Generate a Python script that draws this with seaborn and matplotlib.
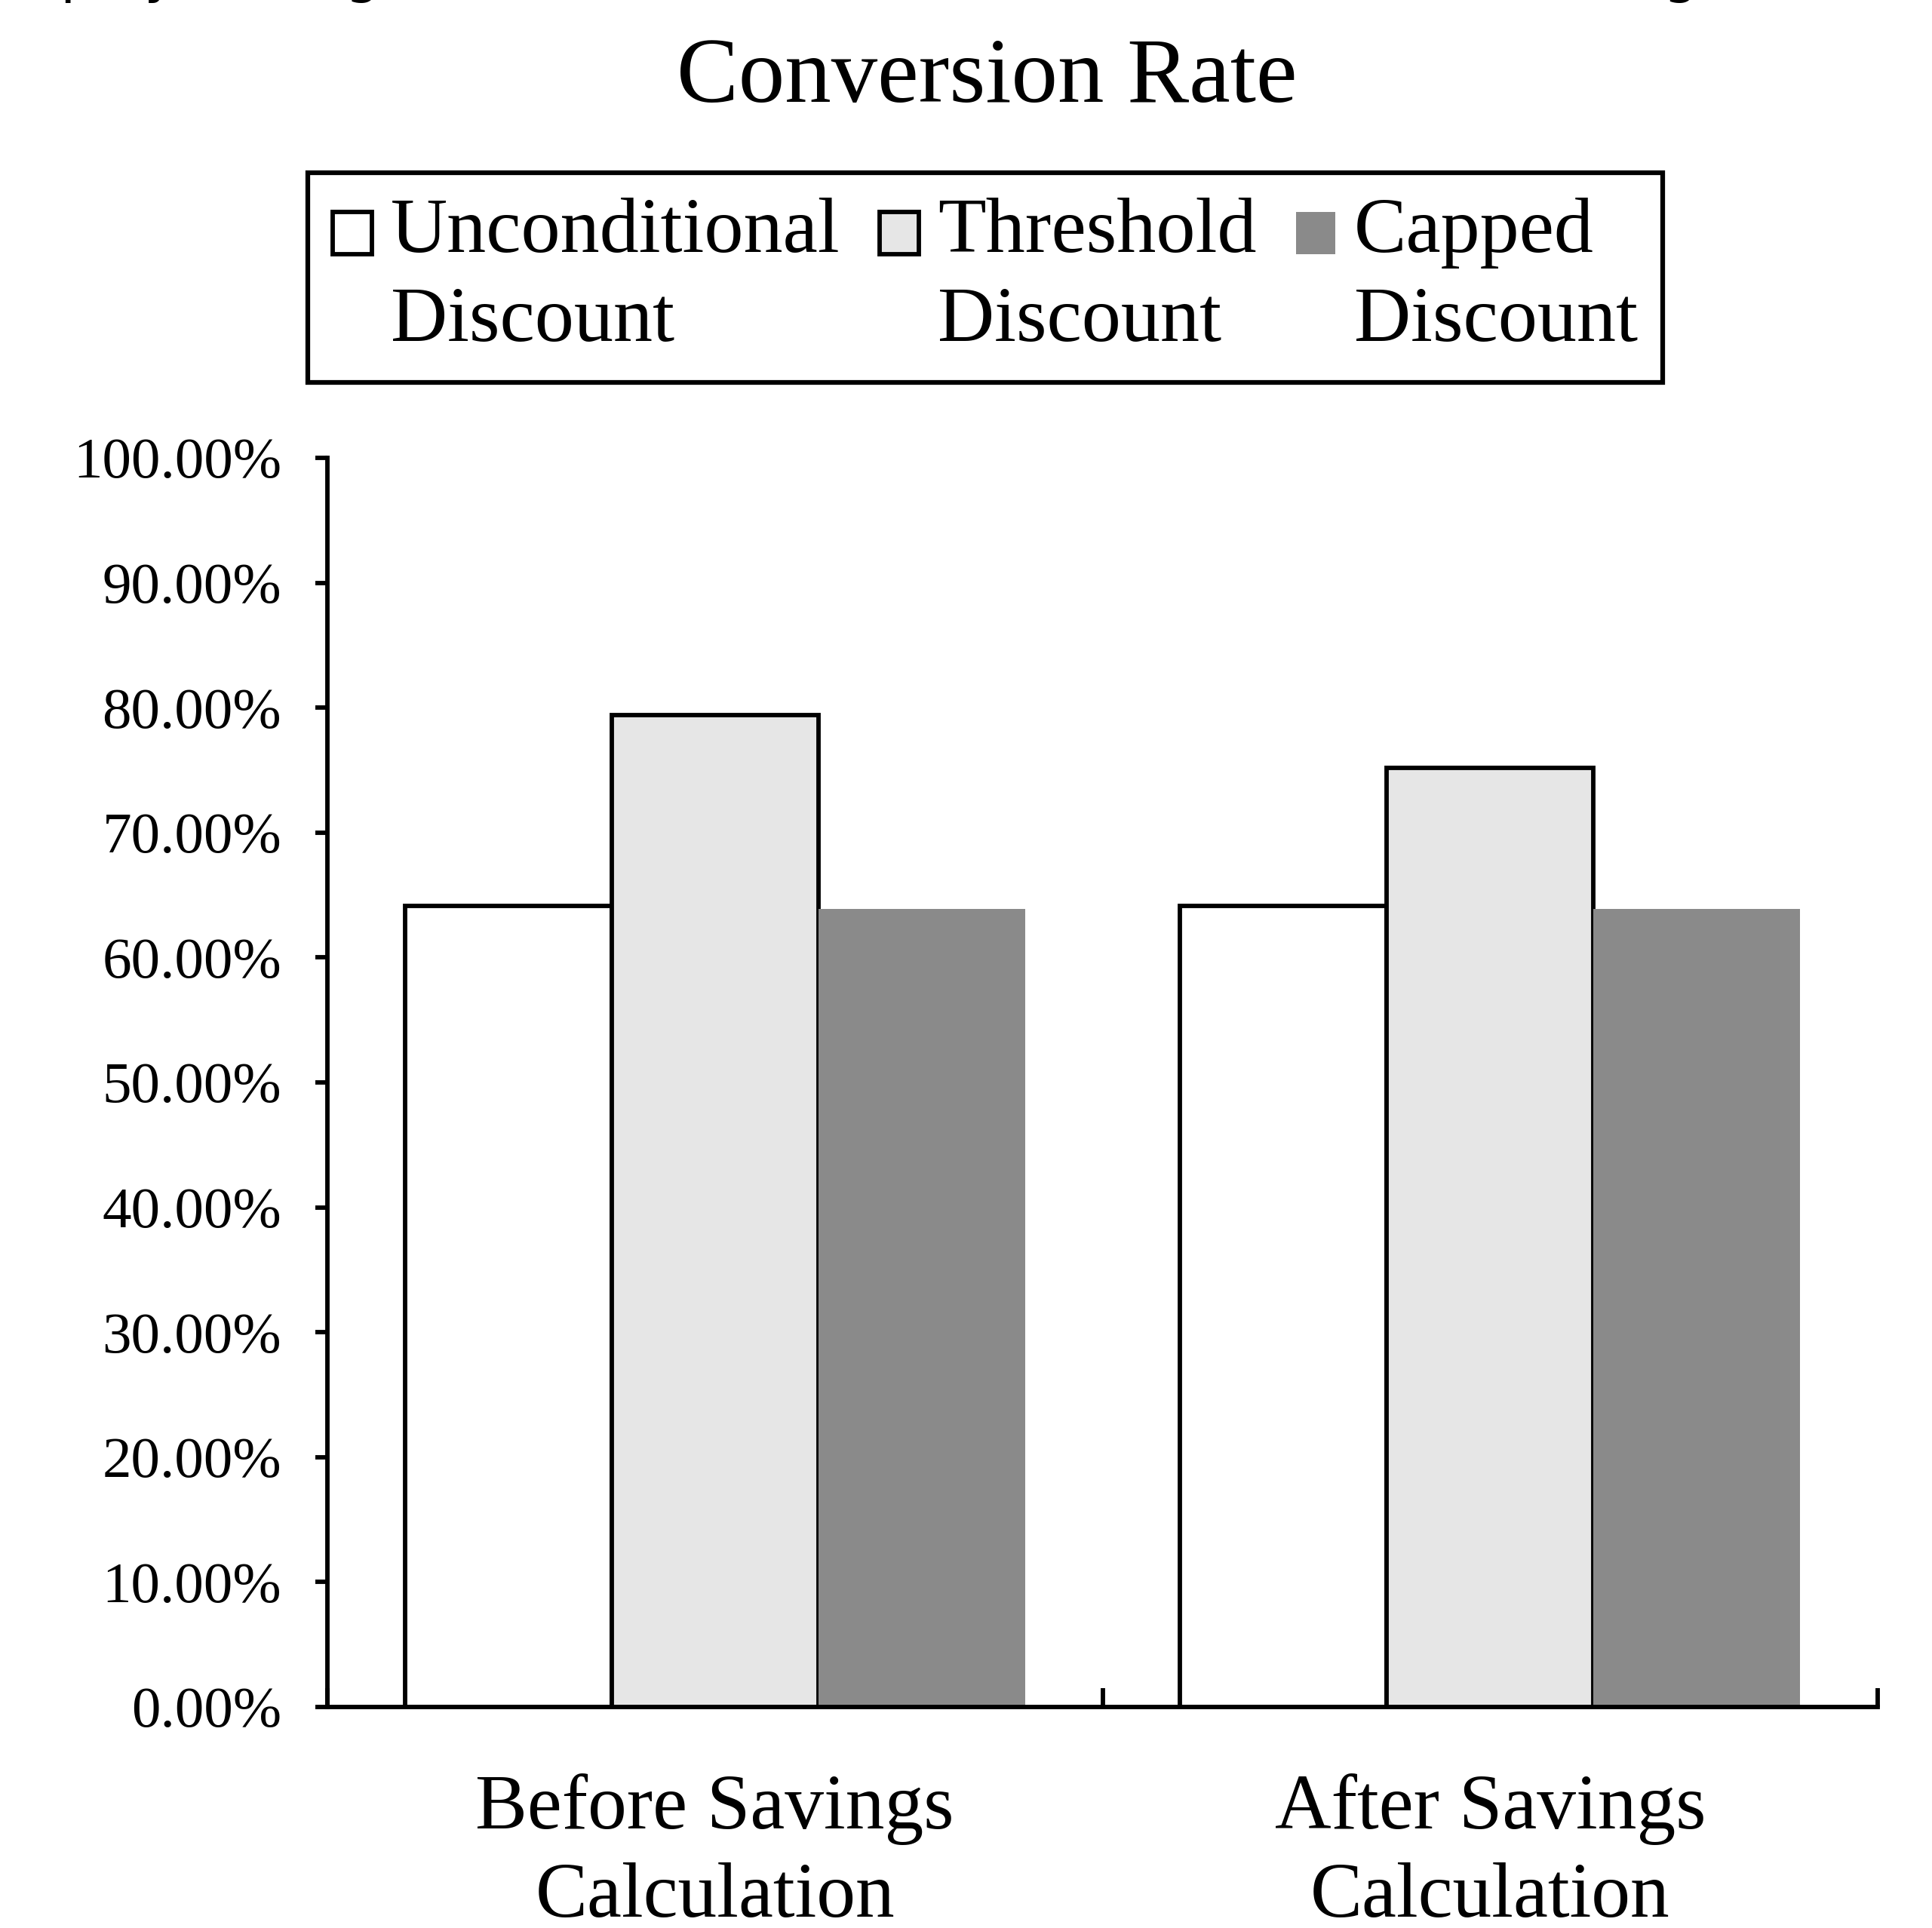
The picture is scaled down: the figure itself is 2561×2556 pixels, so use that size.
import matplotlib
matplotlib.use('Agg')
import matplotlib.pyplot as plt
import seaborn as sns
import pandas as pd
from matplotlib.patches import Rectangle
from matplotlib.legend_handler import HandlerPatch
from matplotlib.ticker import PercentFormatter, MultipleLocator, FixedLocator

# Dados (taxa de conversão média, %)
etapas = ['Before Savings\nCalculation', 'After Savings\nCalculation']
tipos = ['Unconditional\nDiscount', 'Threshold\nDiscount', 'Capped\nDiscount']
incondicional = [64.15, 64.15]
limiar = [79.4, 75.2]
limitado = [63.9, 63.9]
cores = ['#ffffff', '#e6e6e6', '#8a8a8a']

df = pd.DataFrame({
    'etapa': etapas * 3,
    'tipo': [t for t in tipos for _ in etapas],
    'taxa': incondicional + limiar + limitado,
})

sns.set_style('white')
plt.rcParams['font.family'] = ['Liberation Serif', 'DejaVu Serif']
plt.rcParams['text.color'] = 'black'
plt.rcParams['xtick.color'] = 'black'
plt.rcParams['ytick.color'] = 'black'
plt.rcParams['axes.labelcolor'] = 'black'

W, H = 2561, 2556
fig = plt.figure(figsize=(W / 300, H / 300), dpi=300)
ax = fig.add_axes([434 / W, 1 - 2263 / H, 2055 / W, 1656 / H])

sns.barplot(data=df, x='etapa', y='taxa', hue='tipo', palette=cores,
            width=0.8, errorbar=None, edgecolor='black', linewidth=1.4, ax=ax)

# A barra "Capped" não tem contorno
for barra in ax.containers[2]:
    barra.set_edgecolor('none')
    barra.set_linewidth(0)

ax.set_ylim(0, 100)
ax.set_xlim(-0.5, 1.5)
ax.yaxis.set_major_locator(MultipleLocator(10))
ax.yaxis.set_major_formatter(PercentFormatter(100, decimals=2))
ax.xaxis.set_minor_locator(FixedLocator([-0.5, 0.5, 1.5]))
ax.set_xlabel('')
ax.set_ylabel('')

for lado in ['top', 'right']:
    ax.spines[lado].set_visible(False)
for lado in ['left', 'bottom']:
    ax.spines[lado].set_linewidth(1.4)
    ax.spines[lado].set_color('black')

ax.tick_params(axis='y', direction='out', length=3.8, width=1.4, pad=10.8,
               labelsize=18.5, left=True)
ax.tick_params(axis='x', which='major', length=0, pad=21, labelsize=24.8)
ax.tick_params(axis='x', which='minor', direction='in', length=6, width=1.4,
               bottom=True)
for t in ax.get_xticklabels():
    t.set_linespacing(1.33)


# Marcador da legenda alinhado com a primeira linha do texto
def marcador(legend, orig_handle, xdescent, ydescent, width, height, fontsize):
    return Rectangle((0, 0.64 * fontsize), 0.5 * fontsize, 0.54 * fontsize)


ax.get_legend().remove()
alcas = [c[0] for c in ax.containers]
leg = ax.legend(alcas, tipos, ncol=3, loc='center',
                bbox_to_anchor=(1306 / W, 1 - 368 / H),
                bbox_transform=fig.transFigure, fontsize=25,
                handlelength=0.5, handleheight=0.54, handletextpad=0.24,
                columnspacing=0.5, borderpad=0.32, fancybox=False,
                framealpha=1, edgecolor='black',
                handler_map={Rectangle: HandlerPatch(patch_func=marcador)})
leg.get_frame().set_linewidth(1.5)
for t in leg.get_texts():
    t.set_linespacing(1.33)

# Título (a primeira linha está cortada no topo da figura)
fig.text(-361 / W, 1 + 11 / H,
         "Effect of Display Timing on the Three Discount Methods' Overall Average",
         family=['DejaVu Sans'], fontsize=17.5, ha='left', va='baseline')
fig.text(0.5107, 1 - 135 / H, 'Conversion Rate', fontsize=29.5,
         ha='center', va='baseline')

fig.savefig('out.png', dpi=300)
